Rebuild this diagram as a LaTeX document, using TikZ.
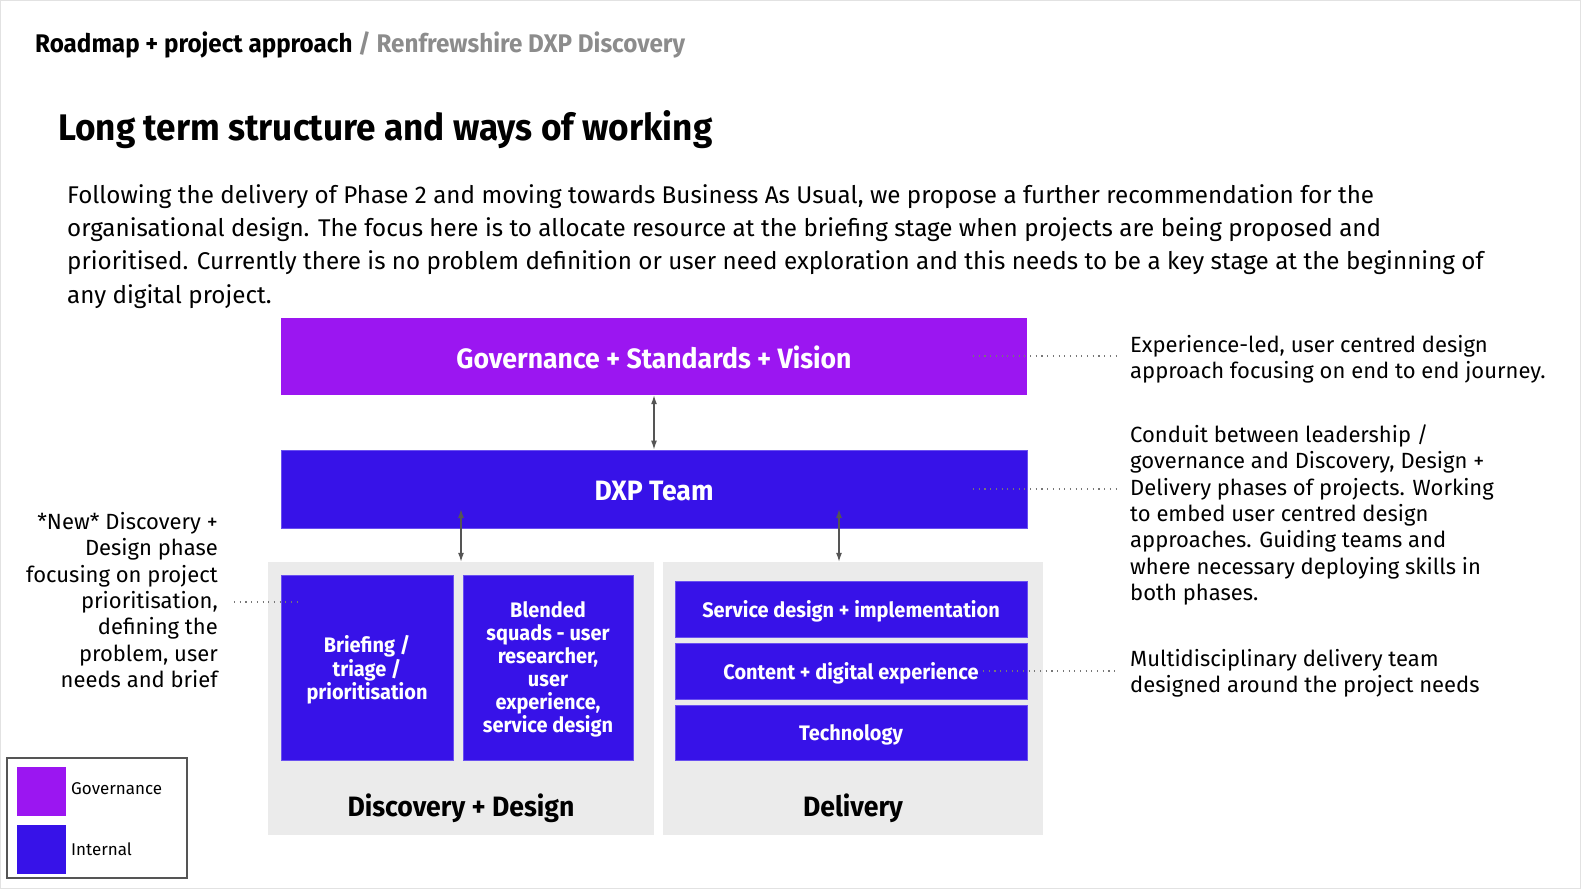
\documentclass[tikz,border=0pt]{standalone}
\usepackage{fontspec}
\setmainfont{Fira Sans}
\newfontfamily\cond[FakeStretch=0.95]{Fira Sans}
\usetikzlibrary{arrows.meta,calc}
\definecolor{gov}{HTML}{9B16F1}
\definecolor{intl}{HTML}{3712E8}
\definecolor{intledge}{HTML}{6A50F0}
\definecolor{panel}{HTML}{EBEBEB}
\definecolor{arrowc}{HTML}{555555}
\definecolor{subgray}{HTML}{8C8C8C}
\definecolor{framec}{HTML}{E2E2E2}
\definecolor{dotc}{HTML}{777777}
\tikzset{
  block/.style={inner sep=0pt, align=center, text=white, font=\cond\bfseries, text depth=0pt},
  govbox/.style={block, fill=gov},
  intbox/.style={block, fill=intl, draw=intledge, line width=0.8pt},
  panelbox/.style={fill=panel, inner sep=0pt},
  panellabel/.style={font=\cond\bfseries\fontsize{28}{30}\selectfont, text=black, inner sep=0pt},
  link/.style={draw=arrowc, line width=1.3pt, {Latex[length=9pt,width=6pt]}-{Latex[length=9pt,width=6pt]}},
  leader/.style={draw=dotc, line width=1.1pt, dash pattern=on 1.1pt off 4.6pt},
  note/.style={font=\fontsize{22}{26.3}\selectfont, inner sep=0pt},
}
\begin{document}
\begin{tikzpicture}[x=1pt,y=-1pt]
\path[use as bounding box] (0,0) rectangle (1581,889);
\draw[framec, line width=1pt] (0.5,0.5) rectangle (1580.5,888.5);

% header
\node[anchor=west, inner sep=0pt, font=\cond\bfseries\fontsize{25.5}{28}\selectfont] (hdr) at (35,44.5)
  {Roadmap + project approach \textcolor{subgray}{/ Renfrewshire DXP Discovery}};
\node[anchor=west, inner sep=0pt, font=\cond\bfseries\fontsize{37}{40}\selectfont] (title) at (58,129.5)
  {Long term structure and ways of working};
\node[anchor=west, inner sep=0pt, align=left, font=\fontsize{24.2}{33.2}\selectfont] (para) at (67,246.5)
  {Following the delivery of Phase 2 and moving towards Business As Usual, we propose a further recommendation for the\\
   organisational design. The focus here is to allocate resource at the briefing stage when projects are being proposed and\\
   prioritised. Currently there is no problem definition or user need exploration and this needs to be a key stage at the beginning of\\
   any digital project.};

% main blocks
\node[govbox, minimum width=746pt, minimum height=77pt, font=\cond\bfseries\fontsize{28}{30}\selectfont] (gov) at (654,356.5)
  {\raisebox{-1.5pt}{Governance + Standards + Vision}};
\node[intbox, minimum width=746pt, minimum height=78pt, font=\cond\bfseries\fontsize{28}{30}\selectfont] (dxp) at (654,489)
  {\raisebox{-3pt}{DXP Team}};

% panels
\node[panelbox, minimum width=386pt, minimum height=273pt] (disc) at (461,698.5) {};
\node[panelbox, minimum width=380pt, minimum height=273pt] (deliv) at (853,698.5) {};
\node[panellabel] (disclbl) at (461,808) {Discovery + Design};
\node[panellabel] (delivlbl) at (853,808) {Delivery};

% inner boxes
\node[intbox, minimum width=172pt, minimum height=185pt, font=\cond\bfseries\fontsize{21}{23.5}\selectfont] (brief) at (367,667.5)
  {Briefing /\\ triage /\\ prioritisation};
\node[intbox, minimum width=170pt, minimum height=185pt, font=\cond\bfseries\fontsize{21}{23}\selectfont] (blend) at (548,667.5)
  {Blended\\ squads - user\\ researcher,\\ user\\ experience,\\ service design};
\node[intbox, minimum width=352pt, minimum height=56pt, font=\cond\bfseries\fontsize{21}{23}\selectfont] (svc) at (851,609)
  {Service design + implementation};
\node[intbox, minimum width=352pt, minimum height=56pt, font=\cond\bfseries\fontsize{21}{23}\selectfont] (cont) at (851,671)
  {Content + digital experience};
\node[intbox, minimum width=352pt, minimum height=55pt, font=\cond\bfseries\fontsize{21}{23}\selectfont] (tech) at (851,732.5)
  {Technology};

% arrows
\draw[link] (gov.south) -- (dxp.north);
\coordinate (a1top) at (461,509);
\coordinate (a2top) at (839,509);
\draw[link] (a1top) -- (a1top |- disc.north);
\draw[link] (a2top) -- (a2top |- deliv.north);

% notes
\node[note, anchor=west, align=left] (n1) at (1130,359)
  {Experience-led, user centred design\\ approach focusing on end to end journey.};
\node[note, anchor=west, align=left] (n2) at (1130,515)
  {Conduit between leadership /\\ governance and Discovery, Design +\\ Delivery phases of projects. Working\\ to embed user centred design\\ approaches. Guiding teams and\\ where necessary deploying skills in\\ both phases.};
\node[note, anchor=west, align=left] (n3) at (1130,673)
  {Multidisciplinary delivery team\\ designed around the project needs};
\node[note, anchor=east, align=right] (n4) at (218,600)
  {*New* Discovery +\\ Design phase\\ focusing on project\\ prioritisation,\\ defining the\\ problem, user\\ needs and brief};

% leaders
\coordinate (l1) at (973,356);
\coordinate (l2) at (973,489);
\coordinate (l3) at (983,671);
\coordinate (l4) at (234,602);
\draw[leader] (l1) -- ($(l1 -| n1.west)+(-14,0)$);
\draw[leader] (l2) -- ($(l2 -| n2.west)+(-14,0)$);
\draw[leader] (l3) -- ($(l3 -| n3.west)+(-14,0)$);
\draw[leader] (l4) -- ($(l4 -| brief.west)+(21,0)$);

% legend
\node[draw=arrowc, line width=1.5pt, minimum width=180pt, minimum height=120pt, inner sep=0pt] (legend) at (97,818) {};
\node[fill=gov, minimum size=49pt, inner sep=0pt] (lg1) at (41.5,791.5) {};
\node[fill=intl, minimum size=49pt, inner sep=0pt] (lg2) at (41.5,849) {};
\node[anchor=west, inner sep=0pt, font=\fontsize{17}{20}\selectfont] (lt1) at (71,789) {Governance};
\node[anchor=west, inner sep=0pt, font=\fontsize{17}{20}\selectfont] (lt2) at (71,849) {Internal};
\end{tikzpicture}
\end{document}
